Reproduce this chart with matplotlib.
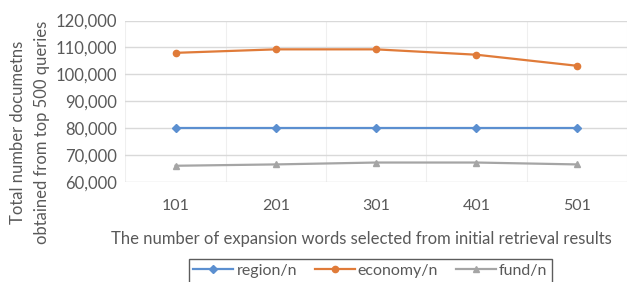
import matplotlib.pyplot as plt
from matplotlib.ticker import FuncFormatter

plt.rcParams['font.family'] = ['Lato', 'DejaVu Sans']

# data
x_labels = ['101', '201', '301', '401', '501']
region = [80000, 80000, 80000, 80000, 80000]
economy = [108000, 109300, 109300, 107300, 103200]
fund = [66000, 66500, 67200, 67200, 66500]

grey_text = '#595959'

fig = plt.figure(figsize=(6.43, 2.82), dpi=100)
ax = fig.add_axes([0.195, 0.355, 0.78, 0.572])

xs = range(len(x_labels))
ax.plot(xs, region, color='#5b8fd0', marker='D', markersize=4, linewidth=1.6, label='region/n')
ax.plot(xs, economy, color='#e07b39', marker='o', markersize=4.5, linewidth=1.6, label='economy/n')
ax.plot(xs, fund, color='#a5a5a5', marker='^', markersize=5, linewidth=1.6, label='fund/n')

ax.set_xlim(-0.5, len(x_labels) - 0.5)
ax.set_ylim(60000, 120000)
ax.set_yticks(range(60000, 120001, 10000))
ax.yaxis.set_major_formatter(FuncFormatter(lambda v, p: f'{int(v):,}'))
ax.set_xticks(list(xs))
ax.set_xticklabels(x_labels)
ax.set_xticks([i + 0.5 for i in range(-1, len(x_labels))], minor=True)

ax.grid(True, axis='y', color='#d9d9d9', linewidth=1)
ax.grid(True, axis='x', which='minor', color='#efefef', linewidth=0.8)
ax.set_axisbelow(True)
for s in ax.spines.values():
    s.set_visible(False)
ax.tick_params(which='both', length=0)
ax.tick_params(axis='y', labelsize=12, colors=grey_text, pad=6)
ax.tick_params(axis='x', labelsize=11.5, colors=grey_text, pad=12)

ax.set_xlabel('The number of expansion words selected from initial retrieval results',
              fontsize=12, color=grey_text, labelpad=13)
ax.xaxis.label.set_x(0.47)
fig.text(0.028, 0.53, 'Total number documetns', rotation=90, fontsize=12,
         color=grey_text, ha='center', va='center')
fig.text(0.066, 0.53, 'obtained from top 500 queries', rotation=90, fontsize=12,
         color=grey_text, ha='center', va='center')

leg = fig.legend(loc='upper center', bbox_to_anchor=(0.576, 0.11), ncol=3,
                 frameon=True, fancybox=False, fontsize=11.5, handlelength=2.5,
                 columnspacing=1.1, borderpad=0.3, handletextpad=0.2)
leg.get_frame().set_edgecolor('#333333')
leg.get_frame().set_linewidth(1)
for t in leg.get_texts():
    t.set_color(grey_text)

fig.savefig('out.png', dpi=100)
